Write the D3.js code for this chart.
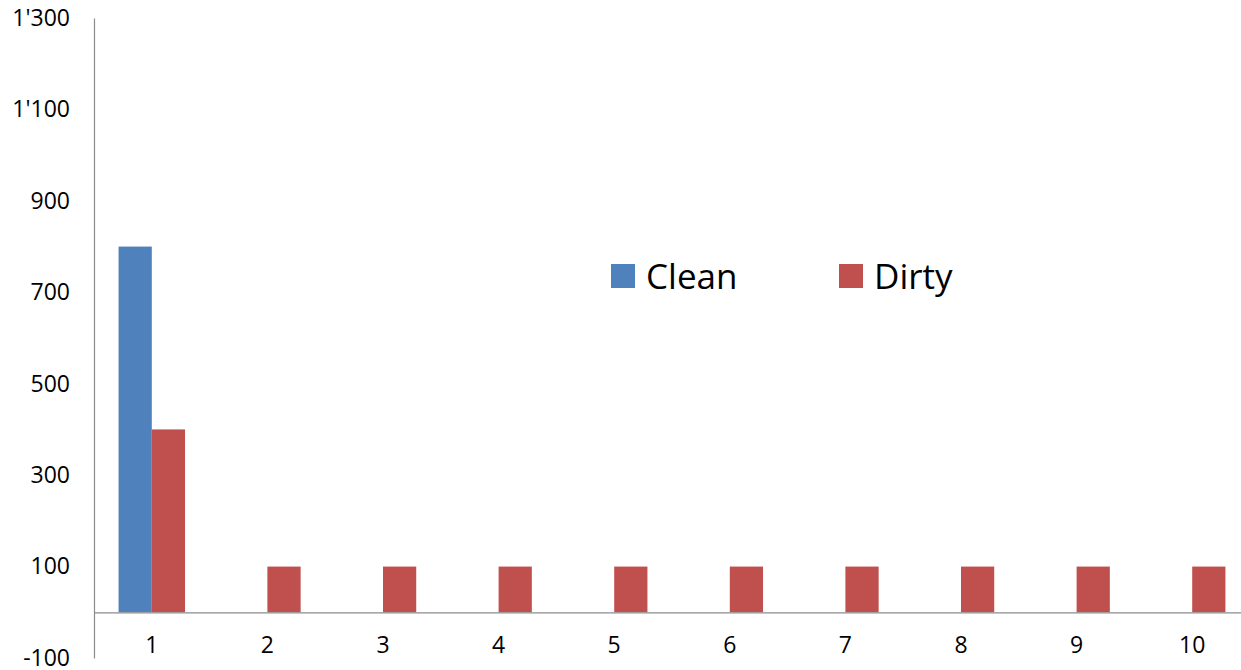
<!DOCTYPE html>
<html>
<head>
<meta charset="utf-8">
<script src="https://cdn.jsdelivr.net/npm/d3@7/dist/d3.min.js"></script>
<style>
  html, body { margin: 0; padding: 0; background: #fff; }
  svg { display: block; font-family: "Open Sans", sans-serif; }
</style>
</head>
<body>
<svg id="chart" width="1241" height="670"></svg>
<script>
// Data
const categories = ["1", "2", "3", "4", "5", "6", "7", "8", "9", "10"];
const seriesNames = ["Clean", "Dirty"];
const cleanValues = [800, 0, 0, 0, 0, 0, 0, 0, 0, 0];
const dirtyValues = [400, 100, 100, 100, 100, 100, 100, 100, 100, 100];
const yTicks = [-100, 100, 300, 500, 700, 900, 1100, 1300];
const colors = ["#4F81BD", "#C0504D"];

const svg = d3.select("#chart");
// plot area runs slightly past the right edge of the canvas
const plotLeft = 94, plotRight = 1250, plotTop = 18, plotBottom = 658;

const x0 = d3.scaleBand().domain(categories).range([plotLeft, plotRight]).paddingInner(0.425).paddingOuter(0.2125);
const x1 = d3.scaleBand().domain(seriesNames).range([0, x0.bandwidth()]);
const y = d3.scaleLinear().domain([-100, 1300]).range([plotBottom, plotTop]);

const rows = categories.map((c, i) => ({ cat: c, vals: [cleanValues[i], dirtyValues[i]] }));

// Bars
const groups = svg.append("g").selectAll("g").data(rows).join("g")
  .attr("transform", d => `translate(${x0(d.cat)},0)`);
groups.selectAll("rect")
  .data(d => d.vals.map((v, j) => ({ name: seriesNames[j], v, j })).filter(e => e.v !== 0))
  .join("rect")
  .attr("x", d => x1(d.name))
  .attr("width", x1.bandwidth())
  .attr("y", d => y(Math.max(0, d.v)))
  .attr("height", d => Math.abs(y(d.v) - y(0)))
  .attr("fill", d => colors[d.j]);

// Y axis: apostrophe thousands separator, plain hyphen for negatives
const fmt = v => (v < 0 ? "-" : "") + d3.format(",")(Math.abs(v)).replace(/,/g, "'");
const yAxis = d3.axisLeft(y).tickValues(yTicks).tickSize(0).tickPadding(24).tickFormat(fmt);
const yg = svg.append("g").attr("transform", `translate(${plotLeft},0)`).call(yAxis);
yg.select(".domain").attr("stroke", "#8c8c8c").attr("stroke-width", 1.2);
yg.selectAll("text").attr("font-size", 23).attr("fill", "#000")
  .attr("font-family", "Open Sans, sans-serif");

// X axis at zero
const xAxis = d3.axisBottom(x0).tickSize(0).tickPadding(24);
const xg = svg.append("g").attr("transform", `translate(0,${y(0)})`).call(xAxis);
xg.select(".domain").attr("stroke", "#8c8c8c").attr("stroke-width", 1.2);
xg.selectAll("text").attr("font-size", 23).attr("fill", "#000")
  .attr("font-family", "Open Sans, sans-serif");

// Legend
const legendPos = [611, 839];
const lg = svg.append("g");
seriesNames.forEach((n, i) => {
  lg.append("rect").attr("x", legendPos[i]).attr("y", 264).attr("width", 24).attr("height", 24).attr("fill", colors[i]);
  lg.append("text").attr("x", legendPos[i] + 35).attr("y", 288.5)
    .attr("font-size", 35).attr("fill", "#000").text(n);
});
</script>
</body>
</html>
